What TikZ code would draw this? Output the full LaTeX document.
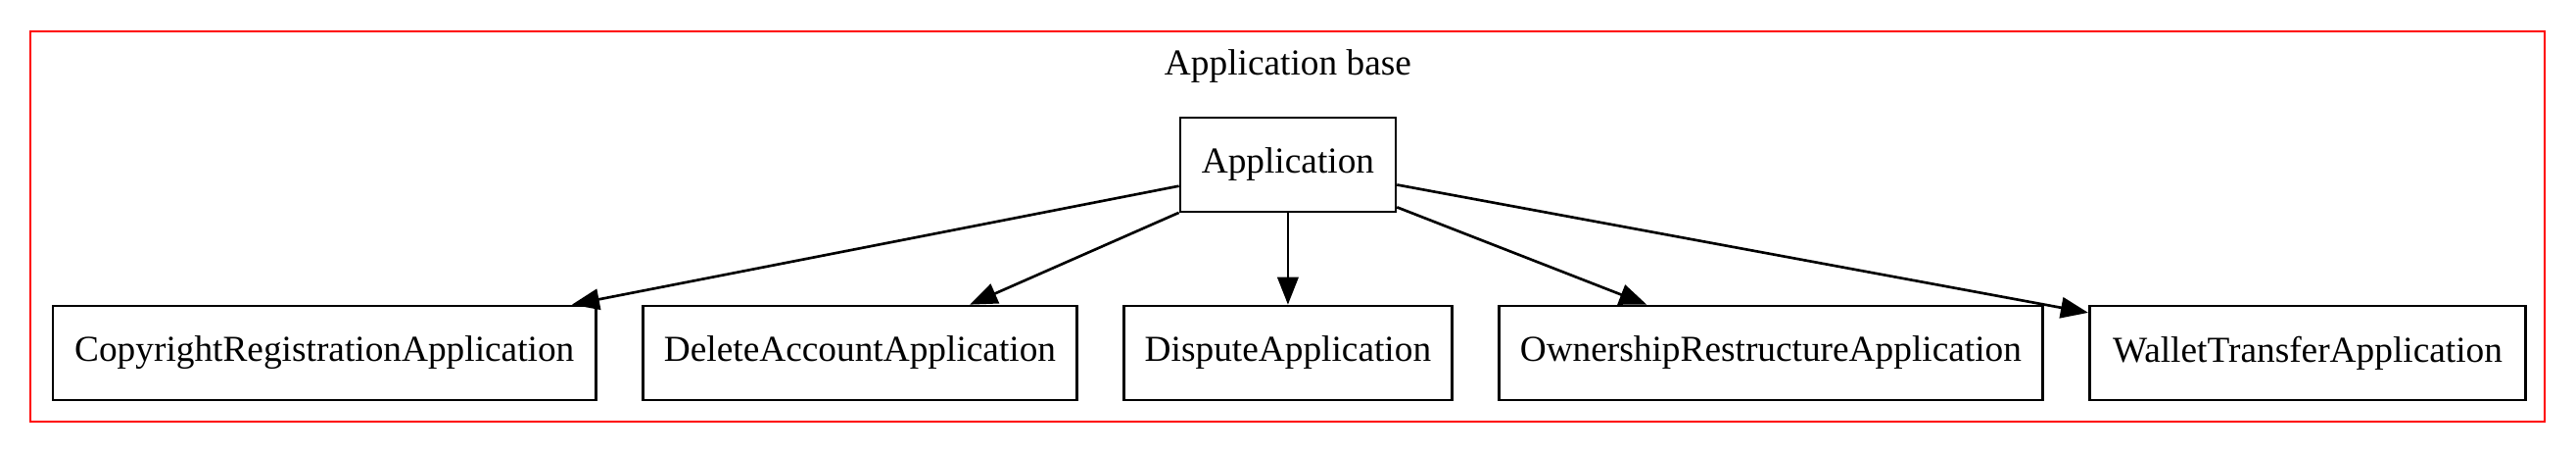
\documentclass[tikz,border=0pt]{standalone}
\usepackage{fontspec}
\setmainfont{Liberation Serif}
\usetikzlibrary{arrows.meta,positioning}

\begin{document}
\begin{tikzpicture}[->,>={Triangle[length=10.5pt,width=8pt]},line width=1pt,
                    node distance=17pt]
\tikzstyle{every node}=[font=\fontsize{14}{17}\selectfont,text=black]
\tikzstyle{class}=[draw=black,rectangle,minimum height=36pt,inner xsep=8pt,inner ysep=0pt]
\tikzstyle{cluster}=[-,draw=red]
\useasboundingbox (0,0) rectangle (986.25pt,-173.25pt);
% cluster frame
\draw[cluster] (11.6pt,-12pt) rectangle (974.2pt,-161.2pt);
\node (title) [anchor=base] at (493.1pt,-28.8pt) {Application base};
\node[class,minimum width=82.5pt] (app) at (493.1pt,-63pt) {Application};
\node[class,minimum width=125.6pt] (dispute) [below=35pt of app] {DisputeApplication};
\node[class,minimum width=166pt] (delete) [left=of dispute] {DeleteAccountApplication};
\node[class,minimum width=208pt] (copyright) [left=of delete] {CopyrightRegistrationApplication};
\node[class,minimum width=208pt] (ownership) [right=of dispute] {OwnershipRestructureApplication};
\node[class,minimum width=167pt] (wallet) [right=of ownership] {WalletTransferApplication};
\path (app) edge (copyright)
            edge (delete)
            edge (dispute)
            edge (ownership)
            edge (wallet);
\end{tikzpicture}
\end{document}
